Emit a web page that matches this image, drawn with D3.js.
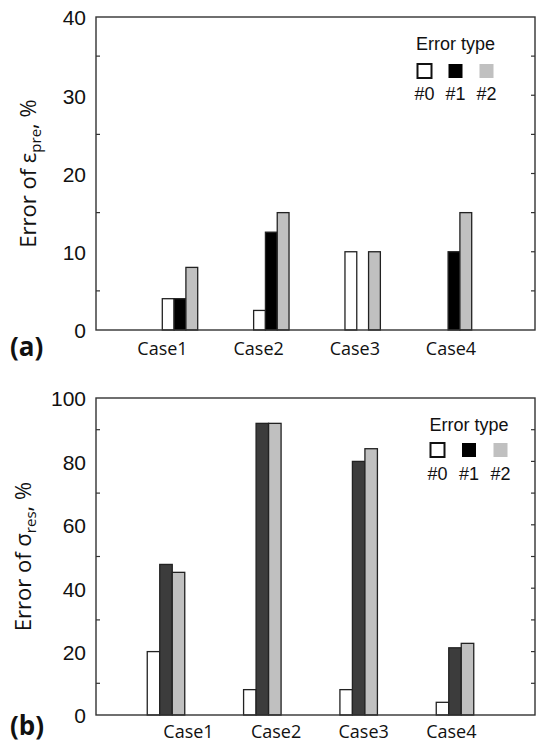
<!DOCTYPE html>
<html>
<head>
<meta charset="utf-8">
<script src="https://cdn.jsdelivr.net/npm/d3@7"></script>
<style>
  html, body { margin: 0; padding: 0; background: #fff; }
  svg { display: block; }
</style>
</head>
<body>
<svg id="chart" width="536" height="744"></svg>
<script>
// Categories and error types
const cases = ["Case1", "Case2", "Case3", "Case4"];
const errorTypes = ["#0", "#1", "#2"];

// (a) error of pre-strain, %
const preType0 = [4, 2.5, 10, 0];
const preType1 = [4, 12.5, 0, 10];
const preType2 = [8, 15, 10, 15];

// (b) error of residual stress, %
const resType0 = [20, 8, 8, 4];
const resType1 = [47.5, 92, 80, 21.2];
const resType2 = [45, 92, 84, 22.6];

// Axis ticks
const preTicks = [0, 10, 20, 30, 40];
const preMinor = [5, 15, 25, 35];
const resTicks = [0, 20, 40, 60, 80, 100];
const resMinor = [10, 30, 50, 70, 90];

const svg = d3.select("#chart");
const tickFont = "'Liberation Sans', Arial, sans-serif";
const textFont = "'Open Sans', 'Noto Sans', sans-serif";

const panels = [
  {
    tag: "(a)", tagY: 356,
    top: 17, bottom: 330, left: 96, right: 535,
    max: 40, ticks: preTicks, minor: preMinor,
    series: [preType0, preType1, preType2],
    fills: ["#ffffff", "#000000", "#c0c0c0"],
    groupRange: [180, 454], labelRange: [162.5, 451], labelY: 355, barW: 11.8,
    sym: "\u03b5", sub: "pre", titleX: 36,
    legend: { x: 424.5, step: 31, titleY: 50, boxY: 63, labelY: 100 }
  },
  {
    tag: "(b)", tagY: 735,
    top: 398, bottom: 715, left: 96, right: 535,
    max: 100, ticks: resTicks, minor: resMinor,
    series: [resType0, resType1, resType2],
    fills: ["#ffffff", "#3c3c3c", "#c0c0c0"],
    groupRange: [166, 455], labelRange: [188.5, 451.3], labelY: 738, barW: 12.5,
    sym: "\u03c3", sub: "res", titleX: 31,
    legend: { x: 437.5, step: 31.5, titleY: 431, boxY: 442, labelY: 480 }
  }
];

panels.forEach(p => {
  const g = svg.append("g");
  const y = d3.scaleLinear().domain([0, p.max]).range([p.bottom, p.top]);
  const xGroup = d3.scalePoint().domain(cases).range(p.groupRange);
  const xLabel = d3.scalePoint().domain(cases).range(p.labelRange);
  const xSeries = d3.scaleBand().domain(errorTypes)
    .range([-1.5 * p.barW, 1.5 * p.barW]).padding(0);

  // Bars
  const rows = [];
  cases.forEach((c, i) => {
    errorTypes.forEach((t, j) => {
      rows.push({ c, t, j, v: p.series[j][i] });
    });
  });
  g.selectAll("rect.bar").data(rows.filter(d => d.v > 0)).join("rect")
    .attr("class", "bar")
    .attr("x", d => xGroup(d.c) + xSeries(d.t))
    .attr("y", d => y(d.v))
    .attr("width", xSeries.bandwidth())
    .attr("height", d => y(0) - y(d.v))
    .attr("fill", d => p.fills[d.j])
    .attr("stroke", "#222")
    .attr("stroke-width", 1.3);

  // Frame
  g.append("rect")
    .attr("x", p.left).attr("y", p.top)
    .attr("width", p.right - p.left).attr("height", p.bottom - p.top)
    .attr("fill", "none").attr("stroke", "#333").attr("stroke-width", 1.4);

  // Minor ticks on the left, all ticks on the right (pointing inward)
  g.selectAll("line.lminor").data(p.minor).join("line")
    .attr("x1", p.left).attr("x2", p.left + 4)
    .attr("y1", d => y(d)).attr("y2", d => y(d))
    .attr("stroke", "#333").attr("stroke-width", 1.2);
  g.selectAll("line.rtick").data(p.minor.concat(p.ticks.slice(1, -1))).join("line")
    .attr("x1", p.right - 4).attr("x2", p.right)
    .attr("y1", d => y(d)).attr("y2", d => y(d))
    .attr("stroke", "#333").attr("stroke-width", 1.2);

  // Tick labels
  g.selectAll("text.ytick").data(p.ticks).join("text")
    .attr("x", p.left - 10)
    .attr("y", d => y(d))
    .attr("dy", "0.4em")
    .attr("text-anchor", "end")
    .attr("font-family", tickFont)
    .attr("font-size", 21)
    .attr("fill", "#111")
    .text(d => d);

  // Category labels
  g.selectAll("text.cat").data(cases).join("text")
    .attr("x", d => xLabel(d))
    .attr("y", p.labelY)
    .attr("text-anchor", "middle")
    .attr("font-family", textFont)
    .attr("font-size", 18)
    .attr("fill", "#111")
    .text(d => d);

  // Y axis title
  const midY = (p.top + p.bottom) / 2;
  const title = g.append("text")
    .attr("transform", `translate(${p.titleX},${midY}) rotate(-90)`)
    .attr("text-anchor", "middle")
    .attr("font-family", textFont)
    .attr("font-size", 22)
    .attr("fill", "#111");
  title.append("tspan").text("Error of " + p.sym);
  title.append("tspan").attr("dy", 5).attr("font-size", 15).text(p.sub);
  title.append("tspan").attr("dy", -5).text(",  %");

  // Panel tag
  g.append("text")
    .attr("x", 10).attr("y", p.tagY)
    .attr("font-family", textFont)
    .attr("font-weight", "bold")
    .attr("font-size", 26)
    .attr("fill", "#111")
    .text(p.tag);

  // Legend
  const L = p.legend;
  const lg = g.append("g");
  lg.append("text")
    .attr("x", L.x + L.step).attr("y", L.titleY)
    .attr("text-anchor", "middle")
    .attr("font-family", tickFont).attr("font-size", 18).attr("fill", "#111")
    .text("Error type");
  const legendFills = ["#ffffff", "#000000", "#c0c0c0"];
  lg.selectAll("rect").data(errorTypes).join("rect")
    .attr("x", (d, i) => L.x + i * L.step - 7)
    .attr("y", L.boxY + 1)
    .attr("width", 14).attr("height", 14)
    .attr("fill", (d, i) => legendFills[i])
    .attr("stroke", (d, i) => i === 0 ? "#111" : "none")
    .attr("stroke-width", 2);
  lg.selectAll("text.lab").data(errorTypes).join("text")
    .attr("class", "lab")
    .attr("x", (d, i) => L.x + i * L.step)
    .attr("y", L.labelY)
    .attr("text-anchor", "middle")
    .attr("font-family", tickFont).attr("font-size", 18).attr("fill", "#111")
    .text(d => d);
});
</script>
</body>
</html>
